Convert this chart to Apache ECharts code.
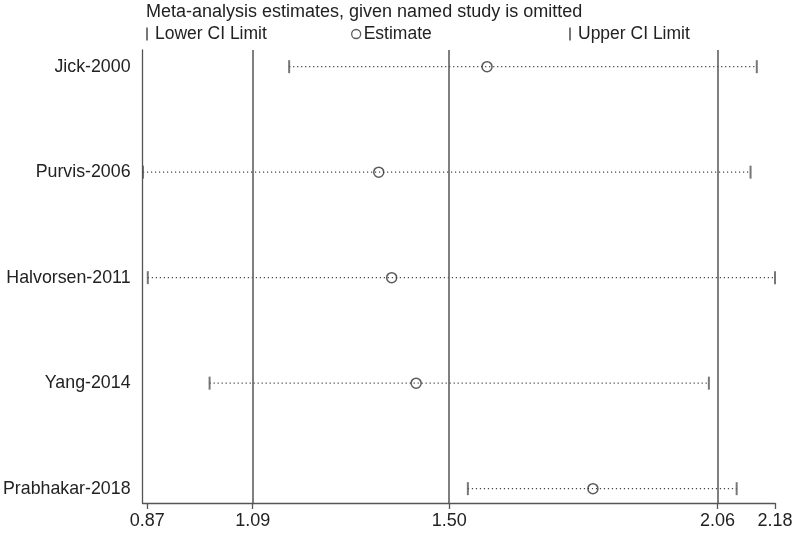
<!DOCTYPE html>
<html>
<head>
<meta charset="utf-8">
<script src="https://cdn.jsdelivr.net/npm/echarts@6/dist/echarts.min.js"></script>
<style>
  html, body { margin: 0; padding: 0; background: #fff; }
  #chart { width: 800px; height: 533px; }
</style>
</head>
<body>
<div id="chart"></div>
<script>
// study omitted in each row, top to bottom
const studies = ['Jick-2000', 'Purvis-2006', 'Halvorsen-2011', 'Yang-2014', 'Prabhakar-2018']
const lowerCI = [1.166, 0.861, 0.871, 1.000, 1.539]
const estimate = [1.579, 1.353, 1.380, 1.431, 1.800]
const upperCI = [2.142, 2.129, 2.180, 2.042, 2.100]
// overall estimate and its CI (vertical lines)
const refLines = [1.09, 1.50, 2.06]
const xTicks = [0.87, 1.09, 1.50, 2.06, 2.18]

const font = "'Liberation Sans', Arial, sans-serif"
const lineColor = '#555'

const chart = echarts.init(document.getElementById('chart'))

const rows = studies.map((s, i) => i + 1)

chart.setOption({
  animation: false,
  textStyle: { fontFamily: font },
  title: {
    text: 'Meta-analysis estimates, given named study is omitted',
    left: 141,
    top: -2,
    textStyle: { fontFamily: font, fontSize: 18, fontWeight: 'normal', color: '#222' }
  },
  legend: [
    {
      data: ['Lower CI Limit'],
      left: 146, top: 25, padding: 0,
      icon: 'rect', itemWidth: 2, itemHeight: 13,
      textStyle: { fontFamily: font, fontSize: 17.5, color: '#222', padding: [0, 0, 0, 2] },
      selectedMode: false
    },
    {
      data: ['Estimate'],
      left: 351, top: 25, padding: 0,
      icon: 'circle', itemWidth: 9, itemHeight: 9,
      itemStyle: { color: 'rgba(0,0,0,0)', borderColor: '#333', borderWidth: 1.3 },
      textStyle: { fontFamily: font, fontSize: 17.5, color: '#222', padding: [0, 0, 0, -2] },
      selectedMode: false
    },
    {
      data: ['Upper CI Limit'],
      left: 569, top: 25, padding: 0,
      icon: 'rect', itemWidth: 2, itemHeight: 13,
      textStyle: { fontFamily: font, fontSize: 17.5, color: '#222', padding: [0, 0, 0, 2] },
      selectedMode: false
    }
  ],
  grid: { left: 142, right: 25, top: 50, bottom: 30 },
  xAxis: {
    type: 'value',
    min: 0.86,
    max: 2.18,
    axisLine: { show: true, lineStyle: { color: lineColor, width: 1.3 } },
    axisTick: { show: true, length: 6, customValues: xTicks, lineStyle: { color: lineColor, width: 1.3 } },
    axisLabel: {
      customValues: xTicks,
      formatter: v => v.toFixed(2),
      fontFamily: font, fontSize: 18, color: '#222', margin: 9
    },
    splitLine: { show: false }
  },
  yAxis: {
    type: 'value',
    inverse: true,
    min: 0.842,
    max: 5.136,
    axisLine: { show: true, lineStyle: { color: lineColor, width: 1.3 } },
    axisTick: { show: false },
    axisLabel: {
      customValues: rows,
      formatter: v => studies[Math.round(v) - 1],
      fontFamily: font, fontSize: 17.8, color: '#222', margin: 12
    },
    splitLine: { show: false }
  },
  series: [
    {
      name: 'whisker',
      type: 'custom',
      z: 1,
      data: studies.map((s, i) => [i + 1, lowerCI[i], upperCI[i]]),
      encode: { x: [1, 2], y: 0 },
      renderItem (params, api) {
        const y = api.value(0)
        const p1 = api.coord([api.value(1), y])
        const p2 = api.coord([api.value(2), y])
        return {
          type: 'line',
          shape: { x1: p1[0], y1: p1[1], x2: p2[0], y2: p2[1] },
          style: { stroke: '#444', lineWidth: 1.2, lineDash: [1.2, 2.8] }
        }
      },
      silent: true
    },
    {
      name: 'Lower CI Limit',
      type: 'scatter',
      z: 3,
      symbol: 'rect',
      symbolSize: [2, 13],
      itemStyle: { color: lineColor },
      data: studies.map((s, i) => [lowerCI[i], i + 1]),
      markLine: {
        silent: true,
        symbol: 'none',
        label: { show: false },
        lineStyle: { type: 'solid', color: lineColor, width: 1.5 },
        data: refLines.map(v => ({ xAxis: v }))
      }
    },
    {
      name: 'Estimate',
      type: 'scatter',
      z: 4,
      symbol: 'circle',
      symbolSize: 10,
      itemStyle: { color: 'rgba(0,0,0,0)', borderColor: '#333', borderWidth: 1.5 },
      data: studies.map((s, i) => [estimate[i], i + 1])
    },
    {
      name: 'Upper CI Limit',
      type: 'scatter',
      z: 3,
      symbol: 'rect',
      symbolSize: [2, 13],
      itemStyle: { color: lineColor },
      data: studies.map((s, i) => [upperCI[i], i + 1])
    }
  ]
})
</script>
</body>
</html>
